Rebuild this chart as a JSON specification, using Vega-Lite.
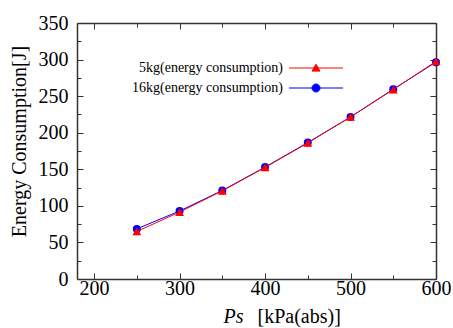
{
  "$schema": "https://vega.github.io/schema/vega-lite/v6.json",
  "width": 359,
  "height": 256,
  "autosize": "none",
  "padding": {"left": 77, "top": 23, "right": 17, "bottom": 49},
  "background": "white",
  "config": {"view": {"stroke": null}},
  "data": {"values": [
    {"series": "5kg(energy consumption)", "ps": 250, "energy": 65},
    {"series": "5kg(energy consumption)", "ps": 300, "energy": 91.5},
    {"series": "5kg(energy consumption)", "ps": 350, "energy": 120.5},
    {"series": "5kg(energy consumption)", "ps": 400, "energy": 152.5},
    {"series": "5kg(energy consumption)", "ps": 450, "energy": 186},
    {"series": "5kg(energy consumption)", "ps": 500, "energy": 221.5},
    {"series": "5kg(energy consumption)", "ps": 550, "energy": 259},
    {"series": "5kg(energy consumption)", "ps": 600, "energy": 297.5},
    {"series": "16kg(energy consumption)", "ps": 250, "energy": 68.5},
    {"series": "16kg(energy consumption)", "ps": 300, "energy": 93},
    {"series": "16kg(energy consumption)", "ps": 350, "energy": 121},
    {"series": "16kg(energy consumption)", "ps": 400, "energy": 153},
    {"series": "16kg(energy consumption)", "ps": 450, "energy": 186.5},
    {"series": "16kg(energy consumption)", "ps": 500, "energy": 221.5},
    {"series": "16kg(energy consumption)", "ps": 550, "energy": 259.5},
    {"series": "16kg(energy consumption)", "ps": 600, "energy": 296.5}
  ]},
  "resolve": {"axis": {"x": "independent", "y": "independent"}},
  "layer": [
    {
      "transform": [{"filter": "datum.series === '16kg(energy consumption)'"}],
      "mark": {"type": "line", "strokeWidth": 1},
      "encoding": {
        "x": {"field": "ps", "type": "quantitative", "scale": {"domain": [180, 600], "nice": false, "zero": false},
          "axis": {"orient": "bottom", "values": [200, 250, 300, 350, 400, 450, 500, 550, 600],
            "labelExpr": "datum.value % 100 === 0 ? datum.label : ''",
            "tickSize": {"condition": {"test": "datum.value % 100 === 0", "value": -6}, "value": -4},
            "labelPadding": 5, "labelFlush": false, "labelOverlap": false, "labelBound": false,
            "labelFont": "Liberation Serif", "labelFontSize": 20, "labelColor": "#000",
            "domainColor": "#333", "domainWidth": 1.5, "tickColor": "#333", "tickWidth": 1, "grid": false,
            "title": "[kPa(abs)]", "titleFont": "Liberation Serif", "titleFontSize": 20, "titleFontWeight": "normal",
            "titleColor": "#000", "titleX": 180, "titleY": 43, "titleAlign": "left", "titleBaseline": "alphabetic"}},
        "y": {"field": "energy", "type": "quantitative", "scale": {"domain": [0, 350], "nice": false},
          "axis": {"orient": "left", "values": [0, 25, 50, 75, 100, 125, 150, 175, 200, 225, 250, 275, 300, 325, 350],
            "labelExpr": "datum.value % 50 === 0 ? datum.label : ''",
            "tickSize": {"condition": {"test": "datum.value % 50 === 0", "value": -6}, "value": -4},
            "labelPadding": 15, "labelFlush": false, "labelOverlap": false, "labelBound": false,
            "labelFont": "Liberation Serif", "labelFontSize": 20, "labelColor": "#000",
            "domainColor": "#333", "domainWidth": 1.5, "tickColor": "#333", "tickWidth": 1, "grid": false,
            "title": "Energy Consumption[J]", "titleFont": "Liberation Serif", "titleFontSize": 20, "titleFontWeight": "normal",
            "titleColor": "#000", "titleX": -58, "titleY": 118, "titleAngle": -90, "titleAlign": "center", "titleBaseline": "middle"}},
        "color": {"field": "series", "type": "nominal",
          "scale": {"domain": ["5kg(energy consumption)", "16kg(energy consumption)"], "range": ["#ff0000", "#0000ff"]},
          "legend": {"title": null, "orient": "none", "legendX": 212, "legendY": 38, "padding": 0,
            "labelFont": "Liberation Serif", "labelFontSize": 14, "labelColor": "#000",
            "symbolSize": 100, "rowPadding": 6,
            "encode": {
              "symbols": {"update": {
                "shape": {"signal": "datum.index === 0 ? 'M-5.4,0H5.4M0,-0.75L0.8,0.62L-0.8,0.62Z' : 'M-5.4,0H5.4M0.8,0A0.8,0.8,0,1,1,-0.8,0A0.8,0.8,0,1,1,0.8,0Z'"},
                "size": {"value": 100},
                "x": {"value": 27},
                "fill": {"scale": "color", "field": "value"},
                "stroke": {"scale": "color", "field": "value"},
                "strokeWidth": {"value": 1},
                "opacity": {"value": 1}
              }},
              "labels": {"update": {"x": {"value": -6}, "align": {"value": "right"}}}
            }}}
      }
    },
    {
      "transform": [{"filter": "datum.series === '16kg(energy consumption)'"}],
      "mark": {"type": "point", "filled": true, "shape": "circle", "size": 64, "opacity": 1},
      "encoding": {
        "x": {"field": "ps", "type": "quantitative",
          "axis": {"orient": "top", "values": [200, 250, 300, 350, 400, 450, 500, 550, 600], "labels": false,
            "tickSize": {"condition": {"test": "datum.value % 100 === 0", "value": -6}, "value": -4},
            "domainColor": "#333", "domainWidth": 1.5, "tickColor": "#333", "tickWidth": 1, "grid": false, "title": null}},
        "y": {"field": "energy", "type": "quantitative",
          "axis": {"orient": "right", "values": [0, 25, 50, 75, 100, 125, 150, 175, 200, 225, 250, 275, 300, 325, 350], "labels": false,
            "tickSize": {"condition": {"test": "datum.value % 50 === 0", "value": -6}, "value": -4},
            "domainColor": "#333", "domainWidth": 1.5, "tickColor": "#333", "tickWidth": 1, "grid": false, "title": null}},
        "color": {"field": "series", "type": "nominal", "legend": null}
      }
    },
    {
      "transform": [{"filter": "datum.series === '5kg(energy consumption)'"}],
      "mark": {"type": "line", "strokeWidth": 1},
      "encoding": {
        "x": {"field": "ps", "type": "quantitative",
          "axis": {"orient": "bottom", "labels": false, "ticks": false, "domain": false, "grid": false,
            "title": "Ps", "titleFont": "Liberation Serif", "titleFontSize": 20, "titleFontWeight": "normal", "titleFontStyle": "italic",
            "titleColor": "#000", "titleX": 146, "titleY": 43, "titleAlign": "left", "titleBaseline": "alphabetic"}},
        "y": {"field": "energy", "type": "quantitative", "axis": null},
        "color": {"field": "series", "type": "nominal", "legend": null}
      }
    },
    {
      "transform": [{"filter": "datum.series === '5kg(energy consumption)'"}],
      "mark": {"type": "point", "filled": true, "shape": "triangle-up", "size": 80, "opacity": 1},
      "encoding": {
        "x": {"field": "ps", "type": "quantitative", "axis": null},
        "y": {"field": "energy", "type": "quantitative", "axis": null},
        "color": {"field": "series", "type": "nominal", "legend": null}
      }
    }
  ]
}
